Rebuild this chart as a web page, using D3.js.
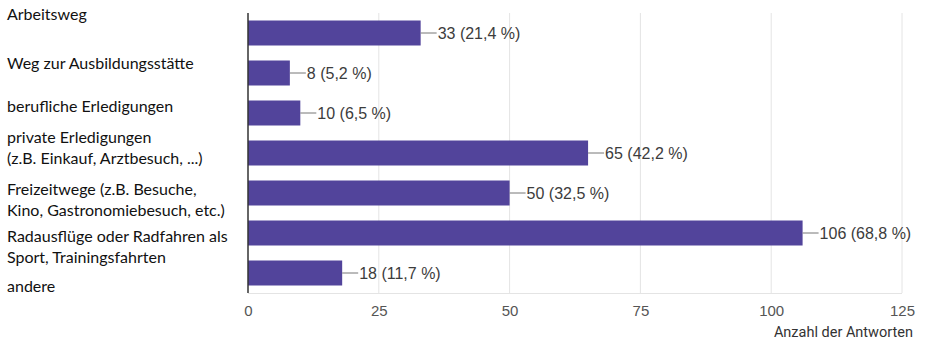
<!DOCTYPE html>
<html>
<head>
<meta charset="utf-8">
<script src="https://cdn.jsdelivr.net/npm/d3@7"></script>
<style>
    body { margin: 0; background: #fff; }
    svg { display: block; }
</style>
</head>
<body>
<svg id="chart" width="925" height="351"></svg>
<script>
// Antworten je Kategorie
var categories = [
    ['Arbeitsweg'],
    ['Weg zur Ausbildungsstätte'],
    ['berufliche Erledigungen'],
    ['private Erledigungen', '(z.B. Einkauf, Arztbesuch, ...)'],
    ['Freizeitwege (z.B. Besuche,', 'Kino, Gastronomiebesuch, etc.)'],
    ['Radausflüge oder Radfahren als', 'Sport, Trainingsfahrten'],
    ['andere']
];
var counts = [33, 8, 10, 65, 50, 106, 18];
var percents = ['21,4', '5,2', '6,5', '42,2', '32,5', '68,8', '11,7'];
var xTicks = [0, 25, 50, 75, 100, 125];
var xTitle = 'Anzahl der Antworten';

var width = 925;
var height = 351;
var margin = { top: 13, right: 23, bottom: 58, left: 248 };

// the category labels were pasted in by hand, so they sit a bit off the bars
var labelShift = [-19, -10, -7, -5, 7, 14, 13];

var svg = d3.select('#chart');

var x = d3.scaleLinear()
    .domain([0, 125])
    .range([margin.left, width - margin.right]);

var y = d3.scaleBand()
    .domain(d3.range(categories.length))
    .range([margin.top, height - margin.bottom])
    .paddingInner(0.375)
    .paddingOuter(0.1875);

// gridlines
svg.append('g')
    .selectAll('line')
    .data(xTicks.slice(1))
    .enter()
    .append('line')
    .attr('x1', function (d) { return x(d); })
    .attr('x2', function (d) { return x(d); })
    .attr('y1', margin.top)
    .attr('y2', height - margin.bottom)
    .attr('stroke', '#e4e4e4')
    .attr('stroke-width', 1);

svg.append('line')
    .attr('x1', x(0))
    .attr('x2', x(125))
    .attr('y1', height - margin.bottom + 0.5)
    .attr('y2', height - margin.bottom + 0.5)
    .attr('stroke', '#e4e4e4');

// bars
var bars = svg.append('g')
    .selectAll('g')
    .data(counts)
    .enter()
    .append('g');

bars.append('rect')
    .attr('x', x(0))
    .attr('y', function (d, i) { return y(i); })
    .attr('width', function (d) { return x(d) - x(0); })
    .attr('height', y.bandwidth())
    .attr('fill', '#52449b');

bars.append('line')
    .attr('x1', function (d) { return x(d); })
    .attr('x2', function (d) { return x(d) + 16; })
    .attr('y1', function (d, i) { return y(i) + y.bandwidth() / 2; })
    .attr('y2', function (d, i) { return y(i) + y.bandwidth() / 2; })
    .attr('stroke', '#777')
    .attr('stroke-width', 1);

bars.append('text')
    .attr('x', function (d) { return x(d) + 17; })
    .attr('y', function (d, i) { return y(i) + y.bandwidth() / 2; })
    .attr('dy', '0.35em')
    .attr('font-family', '"Liberation Sans", Arial, sans-serif')
    .attr('font-size', 16)
    .attr('fill', '#3c3c3c')
    .text(function (d, i) { return d + ' (' + percents[i] + ' %)'; });

// y axis line
svg.append('line')
    .attr('x1', x(0))
    .attr('x2', x(0))
    .attr('y1', margin.top)
    .attr('y2', height - margin.bottom)
    .attr('stroke', '#333')
    .attr('stroke-width', 1.5);

// x axis labels
var xAxis = d3.axisBottom(x)
    .tickValues(xTicks)
    .tickSize(0)
    .tickPadding(12);

var gx = svg.append('g')
    .attr('transform', 'translate(0,' + (height - margin.bottom) + ')')
    .call(xAxis);
gx.select('.domain').remove();
gx.selectAll('text')
    .attr('font-family', '"Liberation Sans", Arial, sans-serif')
    .attr('font-size', 15)
    .attr('fill', '#555');

svg.append('text')
    .attr('x', width - 12)
    .attr('y', height - 14)
    .attr('text-anchor', 'end')
    .attr('font-family', 'Roboto, Arial, sans-serif')
    .attr('font-size', 14.5)
    .attr('fill', '#333')
    .text(xTitle);

// category labels
var labels = svg.append('g')
    .selectAll('text')
    .data(categories)
    .enter()
    .append('text')
    .attr('font-family', 'Lato, "Open Sans", sans-serif')
    .attr('font-size', 16)
    .attr('fill', '#111')
    .attr('y', function (d, i) {
        var mid = y(i) + y.bandwidth() / 2 + labelShift[i];
        return mid - (d.length - 1) * 10.5;
    });

labels.selectAll('tspan')
    .data(function (d) { return d; })
    .enter()
    .append('tspan')
    .attr('x', 7)
    .attr('dy', function (d, i) { return i === 0 ? '0.35em' : 21; })
    .text(function (d) { return d; });
</script>
</body>
</html>
